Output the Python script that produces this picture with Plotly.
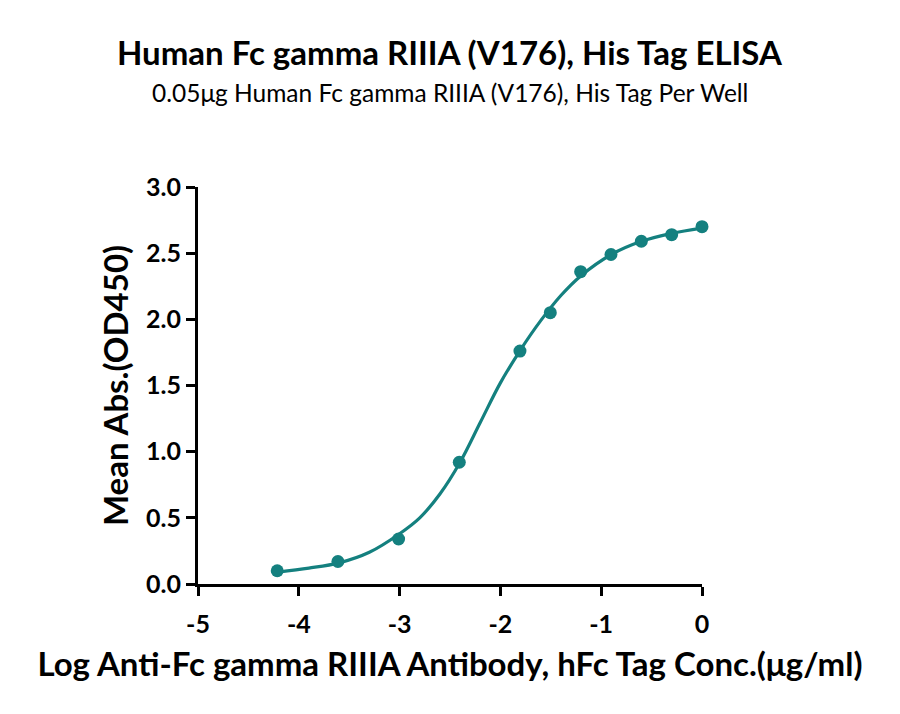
import plotly.graph_objects as go

# ELISA readings (log conc. vs mean OD450)
log_conc = [-4.214, -3.612, -3.010, -2.408, -1.806, -1.505, -1.204, -0.903, -0.602, -0.301, 0.0]
mean_abs = [0.10, 0.17, 0.34, 0.92, 1.76, 2.05, 2.36, 2.49, 2.59, 2.64, 2.70]

# fitted curve as drawn in the reference
fit_x = [-4.21, -3.9, -3.6, -3.3, -3.0, -2.8, -2.6, -2.4, -2.2, -2.0, -1.8, -1.6, -1.4, -1.2, -0.9, -0.6, -0.3, 0.0]
fit_y = [0.09, 0.12, 0.16, 0.24, 0.38, 0.50, 0.68, 0.92, 1.22, 1.52, 1.77, 1.99, 2.18, 2.33, 2.49, 2.59, 2.65, 2.69]

x_ticks = [-5, -4, -3, -2, -1, 0]
y_ticks = [0.0, 0.5, 1.0, 1.5, 2.0, 2.5, 3.0]

teal = "#14807f"
font_name = "Lato"

fig = go.Figure()
fig.add_trace(go.Scatter(
    x=fit_x, y=fit_y, mode="lines",
    line=dict(color=teal, width=3.2, shape="spline", smoothing=1.0),
    cliponaxis=False, showlegend=False, hoverinfo="skip",
))
fig.add_trace(go.Scatter(
    x=log_conc, y=mean_abs, mode="markers",
    marker=dict(color=teal, size=13),
    cliponaxis=False, showlegend=False,
))

axis_common = dict(
    showgrid=False, zeroline=False,
    showline=True, linecolor="black", linewidth=3,
    ticks="outside", ticklen=9, tickwidth=3, tickcolor="black",
    tickfont=dict(family=font_name, size=25, color="black", weight="bold"),
)

fig.update_layout(
    width=900, height=714,
    margin=dict(l=190, r=206, t=179, b=138),
    paper_bgcolor="white", plot_bgcolor="white",
    xaxis=dict(
        range=[-5, 0], tickvals=x_ticks, ticktext=[str(v) for v in x_ticks],
        ticklabelstandoff=7,
        title=dict(text="<b>Log Anti-Fc gamma RIIIA Antibody, hFc Tag Conc.(μg/ml)</b>",
                   font=dict(family=font_name, size=33, color="black"), standoff=16),
        **axis_common,
    ),
    yaxis=dict(
        range=[0, 3.0], tickvals=y_ticks, ticktext=[f"{v:.1f}" for v in y_ticks],
        title=dict(text="<b>Mean Abs.(OD450)</b>",
                   font=dict(family=font_name, size=33, color="black"), standoff=8),
        **axis_common,
    ),
    annotations=[
        dict(text="<b>Human Fc gamma RIIIA (V176), His Tag ELISA</b>",
             x=0.5, y=1.340, xref="paper", yref="paper", xanchor="center", yanchor="middle",
             showarrow=False, font=dict(family=font_name, size=33, color="black")),
        dict(text="0.05μg Human Fc gamma RIIIA (V176), His Tag Per Well",
             x=0.5, y=1.237, xref="paper", yref="paper", xanchor="center", yanchor="middle",
             showarrow=False, font=dict(family=font_name, size=24.5, color="black")),
    ],
)

fig.write_html("out.html")
